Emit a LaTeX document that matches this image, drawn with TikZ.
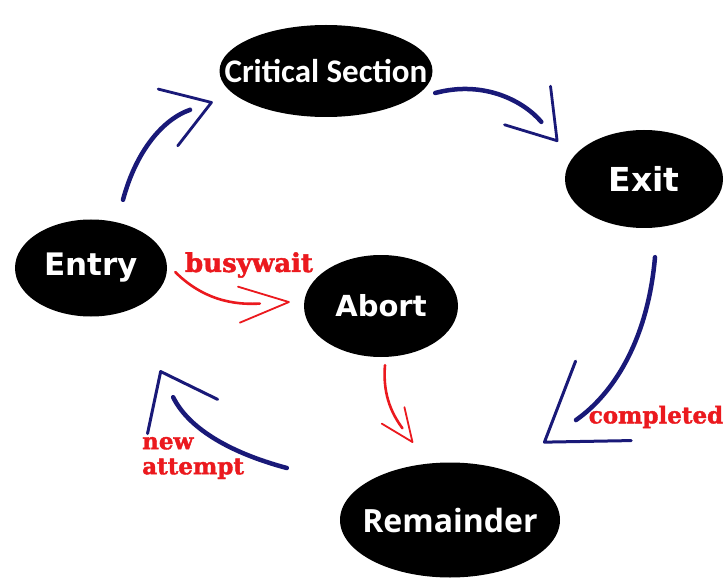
\documentclass[tikz,border=0pt]{standalone}
\usepackage{fontspec}
\usetikzlibrary{shapes.geometric,arrows.meta,decorations.markings}
\newfontfamily\stagefont{Open Sans}
\newfontfamily\widefont{DejaVu Sans}
\newfontfamily\critfont{Carlito}
\newfontfamily\notefont{DejaVu Serif}[BoldFeatures={FakeBold=1.6}]
\definecolor{navy}{RGB}{25,25,120}
\definecolor{note}{RGB}{235,25,30}

\begin{document}
\begin{tikzpicture}[x=1pt,y=1pt,
    stage/.style={ellipse, fill=black, text=white, inner sep=0pt},
    lbl/.style={text=note, inner sep=0pt, font=\notefont\bfseries\fontsize{23}{25}\selectfont},
    blueflow/.style={draw=navy, line width=4.5pt, line cap=round},
    redflow/.style={draw=note, line width=2.6pt, line cap=round},
    barbhead/.style={postaction={draw=none, shorten >=0pt, decorate,
      decoration={markings, mark=at position 1 with {\arrow{#1}}}}}]
    \path[use as bounding box, fill=white] (0,0) rectangle (727,579);

    % states
    \node[stage, minimum width=213pt, minimum height=92pt] (crit) at (326,508)
      {\makebox[0pt]{\critfont\bfseries\fontsize{33}{33}\selectfont Critical Section}};
    \node[stage, minimum width=158pt, minimum height=98pt] (exit) at (644,400)
      {\makebox[0pt]{\widefont\bfseries\fontsize{33}{33}\selectfont Exit}};
    \node[stage, minimum width=152pt, minimum height=97pt] (entry) at (91,311)
      {\makebox[0pt]{\widefont\bfseries\fontsize{31}{31}\selectfont Entry}};
    \node[stage, minimum width=154pt, minimum height=102pt] (abort) at (381,273)
      {\makebox[0pt]{\widefont\bfseries\fontsize{29}{29}\selectfont Abort}};
    \node[stage, minimum width=220pt, minimum height=115pt] (rem) at (450,59)
      {\makebox[0pt]{\stagefont\bfseries\fontsize{32}{32}\selectfont Remainder}};

    % blue cycle
    \draw[blueflow, shorten >=24pt,
          barbhead={Straight Barb[length=46pt, width=60pt, line width=2.8pt, round]}]
      ([shift={(32,19.5)}]entry.north) to[out=75, in=199] ([shift={(-6.5,-31)}]crit.west);
    \draw[blueflow, shorten >=26pt,
          barbhead={Straight Barb[length=46pt, width=60pt, line width=2.8pt, round]}]
      ([shift={(2.5,-22)}]crit.east) to[out=15, in=130] ([shift={(-86,-12)}]exit.north);
    \draw[blueflow, shorten >=40pt,
          barbhead={Straight Barb[length=72pt, width=97pt, line width=3pt, round]}]
      ([shift={(11,-29)}]exit.south) to[out=265, in=35] ([shift={(-17,77)}]rem.east);
    \draw[blueflow, shorten >=30pt,
          barbhead={Straight Barb[length=50pt, width=78pt, line width=3pt, round]}]
      ([shift={(-53,52)}]rem.west) to[out=165, in=296] ([shift={(69,-53.5)}]entry.south);

    % red side path
    \draw[redflow, shorten >=30pt,
          barbhead={Straight Barb[length=50pt, width=36pt, line width=1.8pt, round]}]
      ([shift={(8,-4)}]entry.east) to[out=-45, in=183] ([shift={(-14,4)}]abort.west);
    \draw[redflow, shorten >=18pt,
          barbhead={Straight Barb[length=33pt, width=28pt, line width=1.8pt, round]}]
      ([shift={(4,-8)}]abort.south) to[out=-95, in=126] ([shift={(-37,19.5)}]rem.north);

    % labels
    \node[lbl, font=\notefont\bfseries\fontsize{26}{26}\selectfont] (busy) at (249,314) {busywait};
    \node[lbl] (done) at (656,162) {completed};
    \node[lbl, anchor=west, align=left] (retry) at (142,121) {new\\attempt};
\end{tikzpicture}
\end{document}
